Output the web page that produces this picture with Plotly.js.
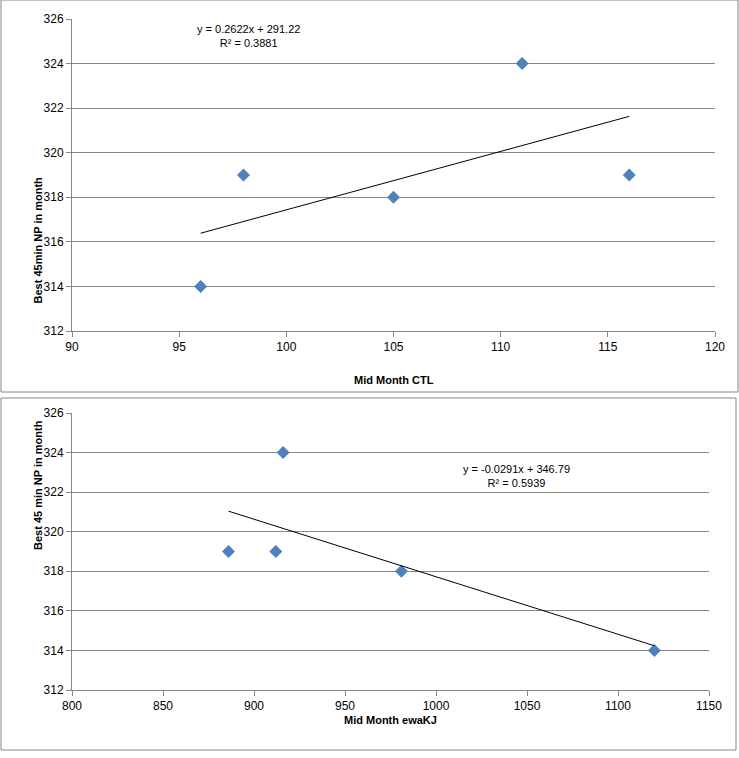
<!DOCTYPE html>
<html><head><meta charset="utf-8">
<script src="https://cdn.plot.ly/plotly-3.0.1.min.js"></script>
<style>body{margin:0;background:#fff}#chart{width:739px;height:758px}</style>
</head><body><div id="chart"></div>
<script>
// top chart: Mid Month CTL vs best 45 min NP
const ctl = [96, 98, 105, 111, 116];
const npTop = [314, 319, 318, 324, 319];
// bottom chart: Mid Month ewaKJ vs best 45 min NP
const ewaKJ = [886, 912, 916, 981, 1120];
const npBottom = [319, 319, 324, 318, 314];

function fit(xs, ys) {
  const n = xs.length;
  const mx = xs.reduce((a, b) => a + b) / n, my = ys.reduce((a, b) => a + b) / n;
  let sxy = 0, sxx = 0;
  xs.forEach((x, i) => { sxy += (x - mx) * (ys[i] - my); sxx += (x - mx) ** 2; });
  const m = sxy / sxx, b = my - m * mx;
  const x0 = Math.min(...xs), x1 = Math.max(...xs);
  return { x: [x0, x1], y: [m * x0 + b, m * x1 + b] };
}
const t1 = fit(ctl, npTop), t2 = fit(ewaKJ, npBottom);

const W = 739, H = 758;
const px = v => v / W, py = v => 1 - v / H;
const blue = '#4F81BD';
const font = { family: 'Liberation Sans, Arial, sans-serif', size: 11, color: '#000' };
const tickFont = { family: 'Liberation Sans, Arial, sans-serif', size: 12, color: '#000' };

const traces = [
  { x: ctl, y: npTop, mode: 'markers', type: 'scatter', xaxis: 'x', yaxis: 'y',
    marker: { symbol: 'diamond', size: 10, color: blue } },
  { x: t1.x, y: t1.y, mode: 'lines', type: 'scatter', xaxis: 'x', yaxis: 'y',
    line: { color: '#000', width: 1 } },
  { x: ewaKJ, y: npBottom, mode: 'markers', type: 'scatter', xaxis: 'x2', yaxis: 'y2',
    marker: { symbol: 'diamond', size: 10, color: blue } },
  { x: t2.x, y: t2.y, mode: 'lines', type: 'scatter', xaxis: 'x2', yaxis: 'y2',
    line: { color: '#000', width: 1 } }
];

const yax = dom => ({ domain: dom, range: [312, 326], dtick: 2, showgrid: true, gridcolor: '#868686',
  showline: true, linecolor: '#868686', ticks: 'outside', ticklen: 5, tickcolor: '#868686',
  zeroline: false, tickfont: tickFont });
const xax = (dom, r, d, anchor) => ({ domain: dom, range: r, dtick: d, showgrid: false, anchor: anchor,
  showline: true, linecolor: '#868686', ticks: 'outside', ticklen: 5, tickcolor: '#868686',
  zeroline: false, tickfont: tickFont });

const layout = {
  width: W, height: H, margin: { l: 0, r: 0, t: 0, b: 0 },
  paper_bgcolor: '#fff', plot_bgcolor: '#fff', showlegend: false,
  xaxis: xax([px(72), px(715)], [90, 120], 5, 'y'),
  yaxis: yax([py(331), py(19)]),
  xaxis2: xax([px(72), px(709)], [800, 1150], 50, 'y2'),
  yaxis2: yax([py(690), py(413)]),
  shapes: [
    { type: 'rect', xref: 'paper', yref: 'paper', x0: px(1), x1: px(738), y0: py(392), y1: py(0),
      line: { color: '#868686', width: 1 } },
    { type: 'rect', xref: 'paper', yref: 'paper', x0: px(1), x1: px(736), y0: py(750), y1: py(398),
      line: { color: '#868686', width: 1 } }
  ],
  annotations: [
    { text: '<b>Mid Month CTL</b>', xref: 'paper', yref: 'paper', x: px(394), y: py(380), showarrow: false, font: font },
    { text: '<b>Best 45min NP in month</b>', xref: 'paper', yref: 'paper', x: px(30), y: py(175), textangle: -90, showarrow: false, font: font },
    { text: 'y = 0.2622x + 291.22<br>R² = 0.3881', xref: 'paper', yref: 'paper', x: px(195), y: py(21), yanchor: 'top', showarrow: false, font: font },
    { text: '<b>Mid Month ewaKJ</b>', xref: 'paper', yref: 'paper', x: px(390), y: py(728), showarrow: false, font: font },
    { text: '<b>Best 45 min NP in month</b>', xref: 'paper', yref: 'paper', x: px(30), y: py(552), textangle: -90, showarrow: false, font: font },
    { text: 'y = -0.0291x + 346.79<br>R² = 0.5939', xref: 'paper', yref: 'paper', x: px(572), y: py(476), showarrow: false, font: font }
  ]
};

Plotly.newPlot('chart', traces, layout, { displayModeBar: false, staticPlot: true });
</script></body></html>
